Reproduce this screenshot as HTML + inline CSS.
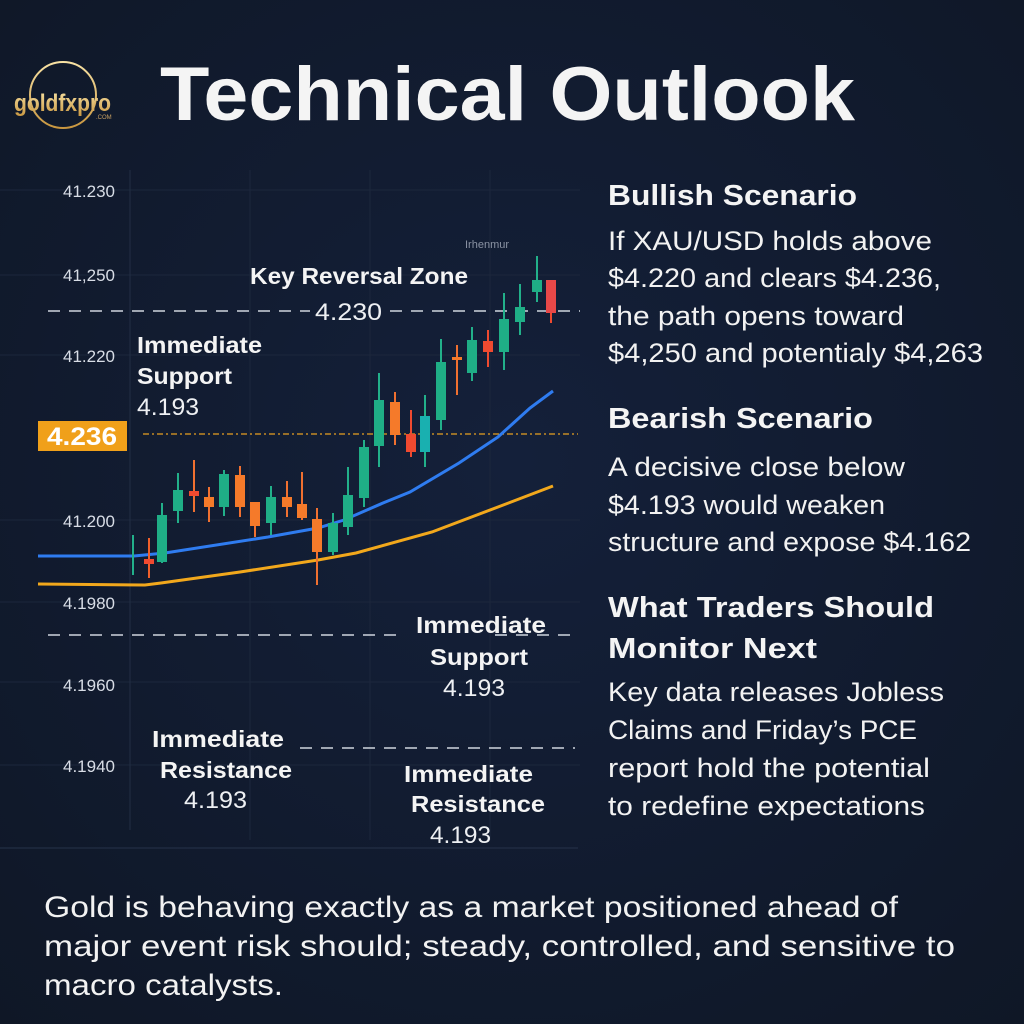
<!DOCTYPE html>
<html><head><meta charset="utf-8"><style>
html,body{margin:0;padding:0;background:#111a2c;}
svg{display:block}
text{font-family:"Liberation Sans",sans-serif;}
</style></head><body>
<svg width="1024" height="1024" viewBox="0 0 1024 1024" xmlns="http://www.w3.org/2000/svg">
<defs>
<radialGradient id="bg" cx="50%" cy="45%" r="75%"><stop offset="0" stop-color="#14203a"/><stop offset="1" stop-color="#0f1726"/></radialGradient>
<linearGradient id="gold" x1="0" y1="0" x2="0" y2="1"><stop offset="0" stop-color="#f8e2a4"/><stop offset="1" stop-color="#c8963f"/></linearGradient>
</defs>
<rect width="1024" height="1024" fill="url(#bg)"/>
<g stroke="#1c273c" stroke-width="1">
<line x1="0" y1="190" x2="580" y2="190"/><line x1="0" y1="275" x2="580" y2="275"/><line x1="0" y1="355" x2="580" y2="355"/>
<line x1="0" y1="520" x2="580" y2="520"/><line x1="0" y1="602" x2="580" y2="602"/><line x1="0" y1="682" x2="580" y2="682"/>
<line x1="0" y1="765" x2="580" y2="765"/><line x1="0" y1="848" x2="578" y2="848" stroke="#26334a"/>
<line x1="130" y1="170" x2="130" y2="830" stroke="#222e44"/>
<line x1="250" y1="170" x2="250" y2="840"/><line x1="370" y1="170" x2="370" y2="840"/><line x1="490" y1="170" x2="490" y2="840"/>
</g>
<circle cx="63" cy="95" r="33" fill="none" stroke="url(#gold)" stroke-width="2"/>
<text x="14" y="111" font-size="24" font-weight="bold" fill="url(#gold)" textLength="97" lengthAdjust="spacingAndGlyphs">goldfxpro</text>
<text x="96" y="119" font-size="6" fill="#c8a060">.COM</text>
<text x="160" y="120" font-size="76" font-weight="bold" fill="#f4f4f4" textLength="695" lengthAdjust="spacingAndGlyphs">Technical Outlook</text>
<g font-size="17" fill="#d8dde6" text-anchor="end">
<text x="115" y="197">41.230</text><text x="115" y="281">41,250</text><text x="115" y="362">41.220</text>
<text x="115" y="527">41.200</text><text x="115" y="609">4.1980</text><text x="115" y="691">4.1960</text><text x="115" y="772">4.1940</text>
</g>
<g stroke="#cfd5de" stroke-width="1.6" stroke-dasharray="12 9">
<line x1="48" y1="311" x2="310" y2="311"/><line x1="390" y1="311" x2="580" y2="311"/>
<line x1="48" y1="635" x2="400" y2="635"/><line x1="495" y1="635" x2="578" y2="635"/>
<line x1="300" y1="748" x2="575" y2="748"/>
</g>
<line x1="143" y1="434" x2="578" y2="434" stroke="#e8a020" stroke-width="1.3" stroke-dasharray="6 3 2 3"/>
<polyline fill="none" stroke="#f2a81c" stroke-width="3" points="38,584 145,585 161,583 240,572 318,560 356,553 432,532 498,507 553,486"/>
<polyline fill="none" stroke="#2f7cf0" stroke-width="3" points="38,556 134,556 165,553 268,537 318,528 344,520 383,503 410,492 459,463 498,437 530,408 553,391"/>
<g>
<line x1="133" y1="535" x2="133" y2="575" stroke="#22b08a" stroke-width="2"/>
<line x1="149" y1="538" x2="149" y2="578" stroke="#f0602a" stroke-width="2"/><rect x="144" y="559" width="10" height="5" fill="#f04a30"/>
<line x1="162" y1="503" x2="162" y2="563" stroke="#22b08a" stroke-width="2"/><rect x="157" y="515" width="10" height="47" fill="#1fae86"/>
<line x1="178" y1="473" x2="178" y2="523" stroke="#22b08a" stroke-width="2"/><rect x="173" y="490" width="10" height="21" fill="#1fae86"/>
<line x1="194" y1="460" x2="194" y2="512" stroke="#f07030" stroke-width="2"/><rect x="189" y="491" width="10" height="5" fill="#f04a30"/>
<line x1="209" y1="487" x2="209" y2="522" stroke="#f07030" stroke-width="2"/><rect x="204" y="497" width="10" height="10" fill="#f57a2a"/>
<line x1="224" y1="470" x2="224" y2="516" stroke="#22b08a" stroke-width="2"/><rect x="219" y="474" width="10" height="33" fill="#1fae86"/>
<line x1="240" y1="466" x2="240" y2="517" stroke="#f07030" stroke-width="2"/><rect x="235" y="475" width="10" height="32" fill="#f57a2a"/>
<line x1="255" y1="502" x2="255" y2="537" stroke="#f07030" stroke-width="2"/><rect x="250" y="502" width="10" height="24" fill="#f57a2a"/>
<line x1="271" y1="486" x2="271" y2="535" stroke="#22b08a" stroke-width="2"/><rect x="266" y="497" width="10" height="26" fill="#1fae86"/>
<line x1="287" y1="481" x2="287" y2="517" stroke="#f07030" stroke-width="2"/><rect x="282" y="497" width="10" height="10" fill="#f57a2a"/>
<line x1="302" y1="472" x2="302" y2="520" stroke="#f07030" stroke-width="2"/><rect x="297" y="504" width="10" height="14" fill="#f57a2a"/>
<line x1="317" y1="508" x2="317" y2="585" stroke="#f07030" stroke-width="2"/><rect x="312" y="519" width="10" height="33" fill="#f57a2a"/>
<line x1="333" y1="513" x2="333" y2="555" stroke="#22b08a" stroke-width="2"/><rect x="328" y="523" width="10" height="29" fill="#1fae86"/>
<line x1="348" y1="467" x2="348" y2="535" stroke="#22b08a" stroke-width="2"/><rect x="343" y="495" width="10" height="32" fill="#1fae86"/>
<line x1="364" y1="440" x2="364" y2="507" stroke="#22b08a" stroke-width="2"/><rect x="359" y="447" width="10" height="51" fill="#1fae86"/>
<line x1="379" y1="373" x2="379" y2="467" stroke="#22b08a" stroke-width="2"/><rect x="374" y="400" width="10" height="46" fill="#1fae86"/>
<line x1="395" y1="392" x2="395" y2="445" stroke="#f07030" stroke-width="2"/><rect x="390" y="402" width="10" height="33" fill="#f57a2a"/>
<line x1="411" y1="410" x2="411" y2="457" stroke="#f04a30" stroke-width="2"/><rect x="406" y="434" width="10" height="18" fill="#f04a30"/>
<line x1="425" y1="395" x2="425" y2="467" stroke="#22b08a" stroke-width="2"/><rect x="420" y="416" width="10" height="36" fill="#19b0b0"/>
<line x1="441" y1="339" x2="441" y2="430" stroke="#22b08a" stroke-width="2"/><rect x="436" y="362" width="10" height="58" fill="#1fae86"/>
<line x1="457" y1="345" x2="457" y2="395" stroke="#f07030" stroke-width="2"/><rect x="452" y="357" width="10" height="3" fill="#f57a2a"/>
<line x1="472" y1="327" x2="472" y2="381" stroke="#22b08a" stroke-width="2"/><rect x="467" y="340" width="10" height="33" fill="#1fae86"/>
<line x1="488" y1="330" x2="488" y2="367" stroke="#f04a30" stroke-width="2"/><rect x="483" y="341" width="10" height="11" fill="#f04a30"/>
<line x1="504" y1="293" x2="504" y2="370" stroke="#22b08a" stroke-width="2"/><rect x="499" y="319" width="10" height="33" fill="#1fae86"/>
<line x1="520" y1="284" x2="520" y2="335" stroke="#22b08a" stroke-width="2"/><rect x="515" y="307" width="10" height="15" fill="#1fae86"/>
<line x1="537" y1="256" x2="537" y2="302" stroke="#22b08a" stroke-width="2"/><rect x="532" y="280" width="10" height="12" fill="#1fae86"/>
<line x1="551" y1="280" x2="551" y2="323" stroke="#f04a30" stroke-width="2"/><rect x="546" y="280" width="10" height="33" fill="#e84848"/>
</g>
<text x="465" y="248" font-size="11" fill="#8a93a3">Irhenmur</text>
<g fill="#f4f4f4" font-weight="bold" font-size="23">
<text x="250" y="284" textLength="218" lengthAdjust="spacingAndGlyphs">Key Reversal Zone</text>
<text x="137" y="353" textLength="125" lengthAdjust="spacingAndGlyphs">Immediate</text>
<text x="137" y="384" textLength="95" lengthAdjust="spacingAndGlyphs">Support</text>
<text x="416" y="633" textLength="130" lengthAdjust="spacingAndGlyphs">Immediate</text>
<text x="430" y="665" textLength="98" lengthAdjust="spacingAndGlyphs">Support</text>
<text x="152" y="747" textLength="132" lengthAdjust="spacingAndGlyphs">Immediate</text>
<text x="160" y="778" textLength="132" lengthAdjust="spacingAndGlyphs">Resistance</text>
<text x="404" y="782" textLength="129" lengthAdjust="spacingAndGlyphs">Immediate</text>
<text x="411" y="812" textLength="134" lengthAdjust="spacingAndGlyphs">Resistance</text>
</g>
<g fill="#eef0f3" font-size="24">
<text x="315" y="320" textLength="67" lengthAdjust="spacingAndGlyphs">4.230</text>
<text x="137" y="415" textLength="62" lengthAdjust="spacingAndGlyphs">4.193</text>
<text x="443" y="696" textLength="62" lengthAdjust="spacingAndGlyphs">4.193</text>
<text x="184" y="808" textLength="63" lengthAdjust="spacingAndGlyphs">4.193</text>
<text x="430" y="843" textLength="61" lengthAdjust="spacingAndGlyphs">4.193</text>
</g>
<rect x="38" y="421" width="89" height="30" fill="#f0a01a"/>
<text x="47" y="445" font-size="25" font-weight="bold" fill="#fff" textLength="70" lengthAdjust="spacingAndGlyphs">4.236</text>
<g fill="#f4f4f4" font-weight="bold" font-size="29">
<text x="608" y="205" textLength="249" lengthAdjust="spacingAndGlyphs">Bullish Scenario</text>
<text x="608" y="428" textLength="265" lengthAdjust="spacingAndGlyphs">Bearish Scenario</text>
<text x="608" y="617" textLength="326" lengthAdjust="spacingAndGlyphs">What Traders Should</text>
<text x="608" y="658" textLength="209" lengthAdjust="spacingAndGlyphs">Monitor Next</text>
</g>
<g fill="#f2f2f2" font-size="27">
<text x="608" y="250" textLength="324" lengthAdjust="spacingAndGlyphs">If XAU/USD holds above</text>
<text x="608" y="287" textLength="333" lengthAdjust="spacingAndGlyphs">$4.220 and clears $4.236,</text>
<text x="608" y="325" textLength="296" lengthAdjust="spacingAndGlyphs">the path opens toward</text>
<text x="608" y="362" textLength="375" lengthAdjust="spacingAndGlyphs">$4,250 and potentialy $4,263</text>
<text x="608" y="476" textLength="297" lengthAdjust="spacingAndGlyphs">A decisive close below</text>
<text x="608" y="514" textLength="277" lengthAdjust="spacingAndGlyphs">$4.193 would weaken</text>
<text x="608" y="551" textLength="363" lengthAdjust="spacingAndGlyphs">structure and expose $4.162</text>
<text x="608" y="701" textLength="336" lengthAdjust="spacingAndGlyphs">Key data releases Jobless</text>
<text x="608" y="739" textLength="309" lengthAdjust="spacingAndGlyphs">Claims and Friday’s PCE</text>
<text x="608" y="777" textLength="322" lengthAdjust="spacingAndGlyphs">report hold the potential</text>
<text x="608" y="815" textLength="317" lengthAdjust="spacingAndGlyphs">to redefine expectations</text>
</g>
<g fill="#f2f2f2" font-size="30">
<text x="44" y="917" textLength="854" lengthAdjust="spacingAndGlyphs">Gold is behaving exactly as a market positioned ahead of</text>
<text x="44" y="956" textLength="911" lengthAdjust="spacingAndGlyphs">major event risk should; steady, controlled, and sensitive to</text>
<text x="44" y="995" textLength="239" lengthAdjust="spacingAndGlyphs">macro catalysts.</text>
</g>
</svg>
</body></html>
